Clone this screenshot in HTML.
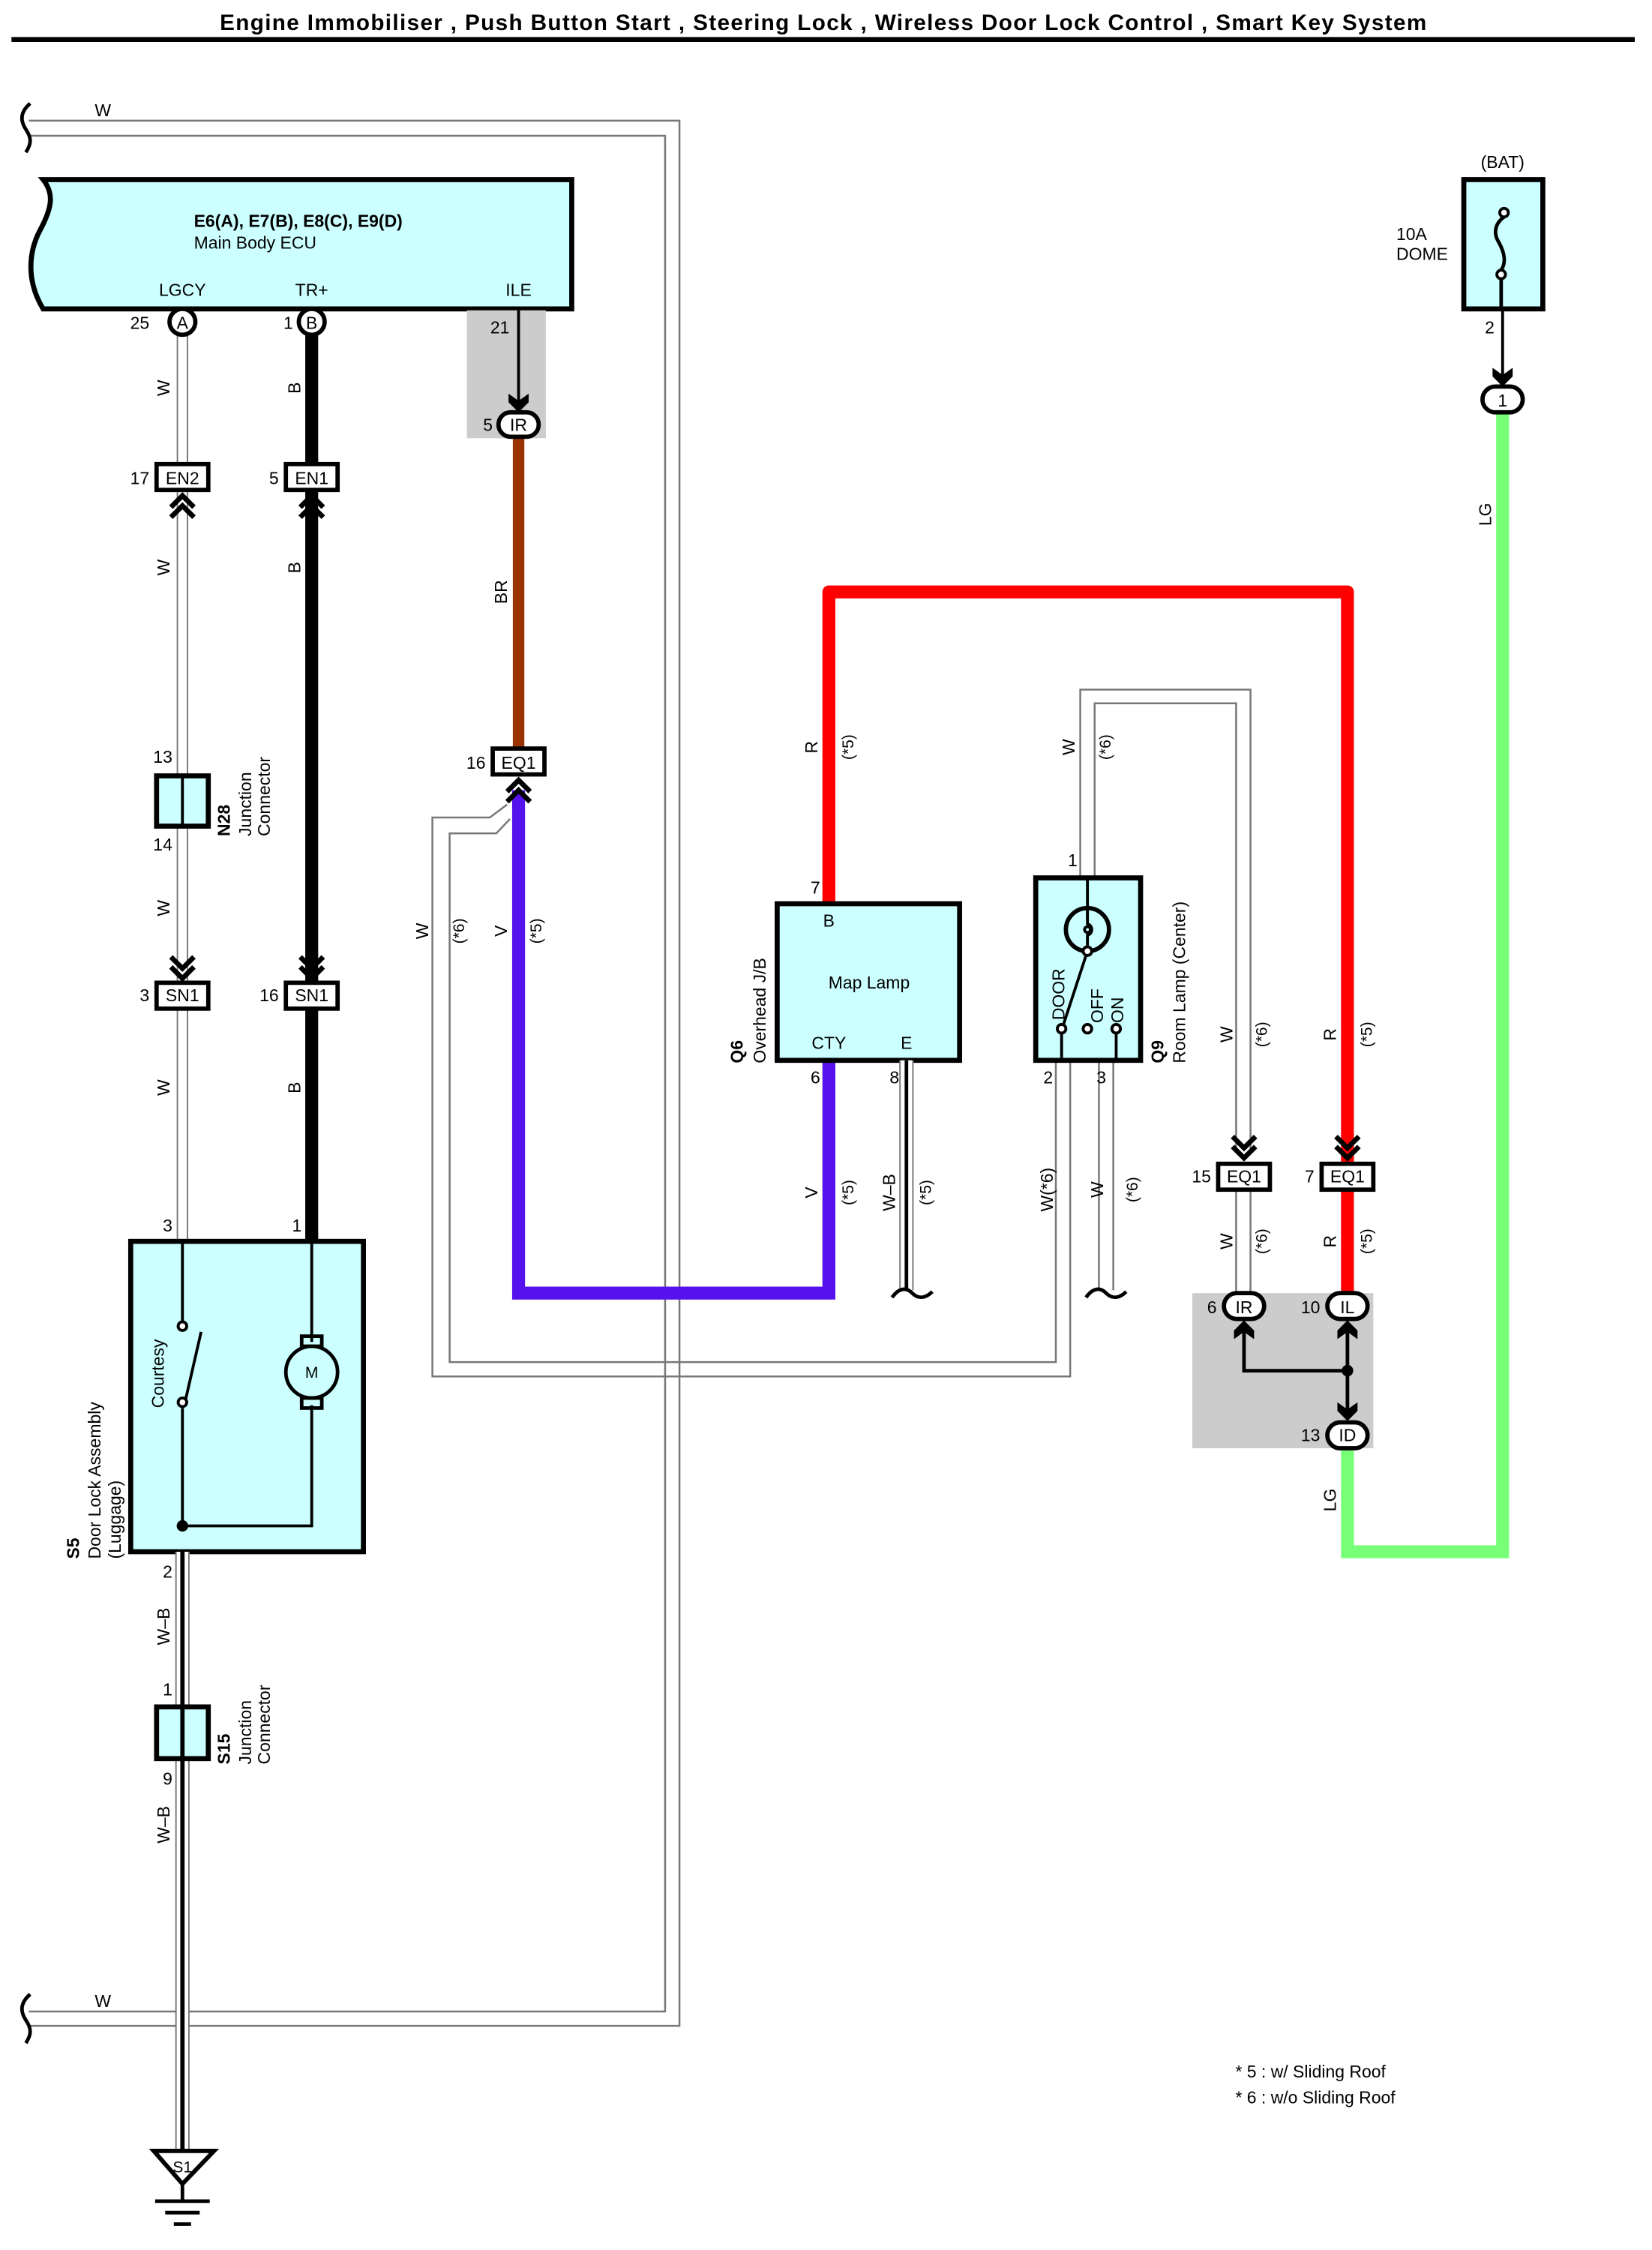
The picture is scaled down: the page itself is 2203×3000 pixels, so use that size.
<!DOCTYPE html>
<html><head><meta charset="utf-8"><style>
html,body{margin:0;padding:0;background:#fff;}
svg{display:block;}
text{font-family:"Liberation Sans",sans-serif;fill:#000;}
</style></head><body>
<svg width="2203" height="3000" viewBox="0 0 1150 1566" preserveAspectRatio="none" xmlns="http://www.w3.org/2000/svg">
<defs>
<symbol id="cd" overflow="visible"><path d="M-8,-15 L0,-7 L8,-15 M-8,-8 L0,0 L8,-8" fill="none" stroke="#000" stroke-width="3.5"/></symbol>
<symbol id="ar" overflow="visible"><path d="M-7,-12 L0,-7 L7,-12 L7,-6 L0,1 L-7,-6 Z" fill="#000"/></symbol>
</defs>
<text x="573" y="21" font-size="15.5" font-weight="bold" text-anchor="middle" textLength="840">Engine Immobiliser , Push Button Start , Steering Lock , Wireless Door Lock Control , Smart Key System</text>
<line x1="8" y1="27.5" x2="1138" y2="27.5" stroke="#000" stroke-width="3.5"/>

<!-- big W loop -->
<g fill="none" stroke="#777" stroke-width="1.3">
<path d="M20,84 H473 V1410 H20"/>
<path d="M20,94.5 H463 V1400 H20"/>
</g>
<path d="M21,72 C14,78 14,84 18,90 C22,96 22,100 18,106" fill="none" stroke="#000" stroke-width="2.5"/>
<path d="M21,1388 C14,1394 14,1400 18,1406 C22,1412 22,1416 18,1422" fill="none" stroke="#000" stroke-width="2.5"/>
<text x="66" y="81" font-size="12">W</text>
<text x="66" y="1397" font-size="12">W</text>

<!-- ECU -->
<path d="M30,125 H398 V215 H30 C18,195 20,175 28,160 C36,145 38,135 30,125 Z" fill="#ccffff" stroke="#000" stroke-width="3.5"/>
<text x="135" y="158" font-size="12" font-weight="bold">E6(A), E7(B), E8(C), E9(D)</text>
<text x="135" y="173" font-size="12">Main Body ECU</text>
<text x="127" y="206" font-size="12" text-anchor="middle">LGCY</text>
<text x="217" y="206" font-size="12" text-anchor="middle">TR+</text>
<text x="361" y="206" font-size="12" text-anchor="middle">ILE</text>
<rect x="325" y="216" width="55" height="89" fill="#cccccc"/>

<!-- LGCY W wire -->
<g fill="none">
<path d="M127,232 V863" stroke="#777" stroke-width="8"/>
<path d="M127,232 V863" stroke="#fff" stroke-width="6"/>
</g>
<!-- TR+ B -->
<line x1="217" y1="232" x2="217" y2="863" stroke="#000" stroke-width="9"/>
<circle cx="127" cy="224" r="9" fill="#fff" stroke="#000" stroke-width="3"/><text x="127" y="229" font-size="12" text-anchor="middle">A</text>
<circle cx="217" cy="224" r="9" fill="#fff" stroke="#000" stroke-width="3"/><text x="217" y="229" font-size="12" text-anchor="middle">B</text>
<text x="104" y="229" font-size="12" text-anchor="end" font-size="12">25</text>
<text x="204" y="229" font-size="12" text-anchor="end">1</text>
<text transform="translate(118,270) rotate(-90)" font-size="12" text-anchor="middle">W</text>
<text transform="translate(209,270) rotate(-90)" font-size="12" text-anchor="middle">B</text>
<text transform="translate(118,395) rotate(-90)" font-size="12" text-anchor="middle">W</text>
<text transform="translate(209,395) rotate(-90)" font-size="12" text-anchor="middle">B</text>
<text transform="translate(118,632) rotate(-90)" font-size="12" text-anchor="middle">W</text>
<text transform="translate(118,757) rotate(-90)" font-size="12" text-anchor="middle">W</text>
<text transform="translate(209,757) rotate(-90)" font-size="12" text-anchor="middle">B</text>

<!-- EN2 / EN1 -->
<rect x="109" y="323" width="36" height="18" fill="#fff" stroke="#000" stroke-width="3"/><text x="127" y="337" font-size="12" text-anchor="middle">EN2</text>
<text x="104" y="337" font-size="12" text-anchor="end">17</text>
<use href="#cd" transform="translate(127,345) rotate(180)"/>
<rect x="199" y="323" width="36" height="18" fill="#fff" stroke="#000" stroke-width="3"/><text x="217" y="337" font-size="12" text-anchor="middle">EN1</text>
<text x="194" y="337" font-size="12" text-anchor="end">5</text>
<use href="#cd" transform="translate(217,345) rotate(180)"/>

<!-- N28 -->
<rect x="109" y="540" width="36" height="35" fill="#ccffff" stroke="#000" stroke-width="3.5"/>
<line x1="127" y1="540" x2="127" y2="575" stroke="#000" stroke-width="2"/>
<text x="120" y="531" font-size="12" text-anchor="end">13</text>
<text x="120" y="592" font-size="12" text-anchor="end">14</text>
<text transform="translate(160,582) rotate(-90)" font-size="12" font-weight="bold">N28</text>
<text transform="translate(175,582) rotate(-90)" font-size="12">Junction</text>
<text transform="translate(188,582) rotate(-90)" font-size="12">Connector</text>

<!-- SN1 -->
<use href="#cd" transform="translate(127,681)"/>
<rect x="109" y="684" width="36" height="18" fill="#fff" stroke="#000" stroke-width="3"/><text x="127" y="697" font-size="12" text-anchor="middle">SN1</text>
<text x="104" y="697" font-size="12" text-anchor="end">3</text>
<use href="#cd" transform="translate(217,681)"/>
<rect x="199" y="684" width="36" height="18" fill="#fff" stroke="#000" stroke-width="3"/><text x="217" y="697" font-size="12" text-anchor="middle">SN1</text>
<text x="194" y="697" font-size="12" text-anchor="end">16</text>

<!-- Door lock -->
<text x="120" y="857" font-size="12" text-anchor="end">3</text>
<text x="210" y="857" font-size="12" text-anchor="end">1</text>
<rect x="91" y="864" width="162" height="216" fill="#ccffff" stroke="#000" stroke-width="3.5"/>
<g stroke="#000" stroke-width="2" fill="none">
<path d="M127,864 V920 M127,980 V1062 H217 V978 M217,864 V934"/>
<line x1="129" y1="975" x2="140" y2="927"/>
<circle cx="127" cy="923" r="3" fill="#fff"/><circle cx="127" cy="976" r="3" fill="#fff"/>
<circle cx="217" cy="955" r="18" fill="#ccffff" stroke-width="2.5"/>
<rect x="210" y="930" width="14" height="7" stroke-width="2.5"/><rect x="210" y="973" width="14" height="7" stroke-width="2.5"/>
</g>
<circle cx="217" cy="955" r="16" fill="#ccffff"/>
<text x="217" y="959" font-size="11" text-anchor="middle">M</text>
<circle cx="127" cy="1062" r="4" fill="#000"/>
<text transform="translate(114,980) rotate(-90)" font-size="12">Courtesy</text>
<text transform="translate(55,1085) rotate(-90)" font-size="12" font-weight="bold">S5</text>
<text transform="translate(70,1085) rotate(-90)" font-size="12">Door Lock Assembly</text>
<text transform="translate(84,1085) rotate(-90)" font-size="12">(Luggage)</text>

<!-- W-B to ground -->
<path d="M127,1080 V1497" stroke="#777" stroke-width="10" fill="none"/>
<path d="M127,1080 V1497" stroke="#fff" stroke-width="8" fill="none"/>
<line x1="127" y1="1080" x2="127" y2="1497" stroke="#000" stroke-width="3"/>
<text x="120" y="1098" font-size="12" text-anchor="end">2</text>
<text transform="translate(118,1132) rotate(-90)" font-size="12" text-anchor="middle">W–B</text>
<text x="120" y="1180" font-size="12" text-anchor="end">1</text>
<rect x="109" y="1188" width="36" height="36" fill="#ccffff" stroke="#000" stroke-width="3.5"/>
<line x1="127" y1="1188" x2="127" y2="1224" stroke="#000" stroke-width="3"/>
<text x="120" y="1242" font-size="12" text-anchor="end">9</text>
<text transform="translate(118,1270) rotate(-90)" font-size="12" text-anchor="middle">W–B</text>
<text transform="translate(160,1228) rotate(-90)" font-size="12" font-weight="bold">S15</text>
<text transform="translate(175,1228) rotate(-90)" font-size="12">Junction</text>
<text transform="translate(188,1228) rotate(-90)" font-size="12">Connector</text>
<path d="M107,1497 H149 L127,1520 Z" fill="#fff" stroke="#000" stroke-width="3"/>
<text x="127" y="1512" font-size="11" text-anchor="middle">S1</text>
<g stroke="#000" stroke-width="2.5">
<line x1="127" y1="1520" x2="127" y2="1532"/>
<line x1="108" y1="1532" x2="146" y2="1532"/>
<line x1="115" y1="1540" x2="139" y2="1540"/>
<line x1="121" y1="1548" x2="133" y2="1548"/>
</g>

<!-- ILE -->
<line x1="361" y1="216" x2="361" y2="282" stroke="#000" stroke-width="2"/>
<use href="#ar" transform="translate(361,286)"/>
<text x="348" y="232" font-size="12" text-anchor="middle">21</text>
<line x1="361" y1="304" x2="361" y2="522" stroke="#993300" stroke-width="8"/>
<rect x="347" y="287" width="28" height="17" rx="8.5" fill="#fff" stroke="#000" stroke-width="3"/>
<text x="361" y="300" font-size="12" text-anchor="middle">IR</text>
<text x="343" y="300" font-size="12" text-anchor="end">5</text>
<text transform="translate(353,412) rotate(-90)" font-size="12" text-anchor="middle">BR</text>
<rect x="343" y="521" width="36" height="18" fill="#fff" stroke="#000" stroke-width="3"/><text x="361" y="535" font-size="12" text-anchor="middle">EQ1</text>
<text x="338" y="535" font-size="12" text-anchor="end">16</text>

<!-- W(*6) loop from EQ1 -->
<g fill="none" stroke="#777" stroke-width="1.3">
<path d="M353,560 L341,569 H301 V958 H745 V738"/>
<path d="M355,570 L345.5,580 H313 V948 H735 V738"/>
</g>
<!-- V wire -->
<path d="M361,550 V900 H577 V738" fill="none" stroke="#5511ee" stroke-width="9"/>
<use href="#cd" transform="translate(361,543) rotate(180)"/>
<text transform="translate(298,648) rotate(-90)" font-size="12" text-anchor="middle">W</text>
<text transform="translate(323,648) rotate(-90)" font-size="11" text-anchor="middle">(*6)</text>
<text transform="translate(353,648) rotate(-90)" font-size="12" text-anchor="middle">V</text>
<text transform="translate(377,648) rotate(-90)" font-size="11" text-anchor="middle">(*5)</text>

<!-- R wire -->
<path d="M577,629 V412 H938 V900" fill="none" stroke="#ff0000" stroke-width="9" stroke-linejoin="round"/>
<text transform="translate(569,520) rotate(-90)" font-size="12" text-anchor="middle">R</text>
<text transform="translate(594,520) rotate(-90)" font-size="11" text-anchor="middle">(*5)</text>
<text x="571" y="622" font-size="12" text-anchor="end">7</text>

<!-- Map lamp -->
<rect x="541" y="629" width="127" height="109" fill="#ccffff" stroke="#000" stroke-width="3.5"/>
<text x="577" y="645" font-size="12" text-anchor="middle">B</text>
<text x="605" y="688" font-size="12" text-anchor="middle">Map Lamp</text>
<text x="577" y="730" font-size="12" text-anchor="middle">CTY</text>
<text x="631" y="730" font-size="12" text-anchor="middle">E</text>
<text transform="translate(517,740) rotate(-90)" font-size="12" font-weight="bold">Q6</text>
<text transform="translate(533,740) rotate(-90)" font-size="12">Overhead J/B</text>
<text x="571" y="754" font-size="12" text-anchor="end">6</text>
<text x="626" y="754" font-size="12" text-anchor="end">8</text>
<path d="M631,738 V898" stroke="#777" stroke-width="10" fill="none"/>
<path d="M631,738 V898" stroke="#fff" stroke-width="8" fill="none"/>
<line x1="631" y1="738" x2="631" y2="898" stroke="#000" stroke-width="2.5"/>
<path d="M621,903 C626,896 631,896 635,900 C639,904 644,904 649,899" fill="none" stroke="#000" stroke-width="2.5"/>
<text transform="translate(569,830) rotate(-90)" font-size="12" text-anchor="middle">V</text>
<text transform="translate(594,830) rotate(-90)" font-size="11" text-anchor="middle">(*5)</text>
<text transform="translate(623,830) rotate(-90)" font-size="12" text-anchor="middle">W–B</text>
<text transform="translate(648,830) rotate(-90)" font-size="11" text-anchor="middle">(*5)</text>

<!-- Room lamp wires -->
<g fill="none" stroke="#777" stroke-width="1.3">
<path d="M752,610 V480 H870.5 V800"/>
<path d="M762,610 V489.5 H860.5 V800"/>
<path d="M765,738 V898 M775,738 V898"/>
<path d="M860.5,828 V900 M870.5,828 V900"/>
</g>
<text transform="translate(748,520) rotate(-90)" font-size="12" text-anchor="middle">W</text>
<text transform="translate(773,520) rotate(-90)" font-size="11" text-anchor="middle">(*6)</text>
<text x="750" y="603" font-size="12" text-anchor="end">1</text>
<rect x="721" y="611" width="73" height="127" fill="#ccffff" stroke="#000" stroke-width="3.5"/>
<g stroke="#000" stroke-width="2" fill="none">
<line x1="757" y1="611" x2="757" y2="640"/>
<circle cx="757" cy="647" r="15" stroke-width="3"/>
<path d="M757,632 V643 C761,644 761,650 757,651 V662 L740,714"/>
<circle cx="757" cy="647" r="2" />
<line x1="739" y1="719" x2="739" y2="738"/>
<line x1="777" y1="719" x2="777" y2="738"/>
</g>
<circle cx="739" cy="716" r="3" fill="#fff" stroke="#000" stroke-width="2"/>
<circle cx="757" cy="716" r="3" fill="#fff" stroke="#000" stroke-width="2"/>
<circle cx="777" cy="716" r="3" fill="#fff" stroke="#000" stroke-width="2"/>
<circle cx="757" cy="662" r="3" fill="#fff" stroke="#000" stroke-width="2"/>
<text transform="translate(741,710) rotate(-90)" font-size="12">DOOR</text>
<text transform="translate(768,712) rotate(-90)" font-size="12">OFF</text>
<text transform="translate(782,712) rotate(-90)" font-size="12">ON</text>
<text transform="translate(810,740) rotate(-90)" font-size="12" font-weight="bold">Q9</text>
<text transform="translate(825,740) rotate(-90)" font-size="12">Room Lamp (Center)</text>
<text x="733" y="754" font-size="12" text-anchor="end">2</text>
<text x="770" y="754" font-size="12" text-anchor="end">3</text>
<path d="M756,903 C761,896 766,896 770,900 C774,904 779,904 784,899" fill="none" stroke="#000" stroke-width="2.5"/>
<text transform="translate(733,828) rotate(-90)" font-size="12" text-anchor="middle">W(*6)</text>
<text transform="translate(768,828) rotate(-90)" font-size="12" text-anchor="middle">W</text>
<text transform="translate(792,828) rotate(-90)" font-size="11" text-anchor="middle">(*6)</text>

<!-- EQ1 pair -->
<text transform="translate(858,720) rotate(-90)" font-size="12" text-anchor="middle">W</text>
<text transform="translate(882,720) rotate(-90)" font-size="11" text-anchor="middle">(*6)</text>
<text transform="translate(930,720) rotate(-90)" font-size="12" text-anchor="middle">R</text>
<text transform="translate(955,720) rotate(-90)" font-size="11" text-anchor="middle">(*5)</text>
<use href="#cd" transform="translate(866,806)"/>
<use href="#cd" transform="translate(938,806)"/>
<rect x="848" y="810" width="36" height="18" fill="#fff" stroke="#000" stroke-width="3"/><text x="866" y="823" font-size="12" text-anchor="middle">EQ1</text>
<text x="843" y="823" font-size="12" text-anchor="end">15</text>
<rect x="920" y="810" width="36" height="18" fill="#fff" stroke="#000" stroke-width="3"/><text x="938" y="823" font-size="12" text-anchor="middle">EQ1</text>
<text x="915" y="823" font-size="12" text-anchor="end">7</text>
<text transform="translate(858,864) rotate(-90)" font-size="12" text-anchor="middle">W</text>
<text transform="translate(882,864) rotate(-90)" font-size="11" text-anchor="middle">(*6)</text>
<text transform="translate(930,864) rotate(-90)" font-size="12" text-anchor="middle">R</text>
<text transform="translate(955,864) rotate(-90)" font-size="11" text-anchor="middle">(*5)</text>

<!-- LG wire -->
<path d="M1046,287 V1080 H938 V1006" fill="none" stroke="#77ff77" stroke-width="9"/>
<text transform="translate(1038,358) rotate(-90)" font-size="12" text-anchor="middle">LG</text>
<text transform="translate(930,1044) rotate(-90)" font-size="12" text-anchor="middle">LG</text>

<!-- gray box -->
<rect x="830" y="900" width="126" height="108" fill="#cccccc"/>
<g stroke="#000" stroke-width="2.5" fill="none">
<path d="M866,925 V954 H938 M938,925 V988"/>
</g>
<circle cx="938" cy="954" r="4" fill="#000"/>
<use href="#ar" transform="translate(866,920) rotate(180)"/>
<use href="#ar" transform="translate(938,920) rotate(180)"/>
<use href="#ar" transform="translate(938,988)"/>
<rect x="852" y="900" width="28" height="18" rx="9" fill="#fff" stroke="#000" stroke-width="3"/><text x="866" y="914" font-size="12" text-anchor="middle">IR</text>
<text x="847" y="914" font-size="12" text-anchor="end">6</text>
<rect x="924" y="900" width="28" height="18" rx="9" fill="#fff" stroke="#000" stroke-width="3"/><text x="938" y="914" font-size="12" text-anchor="middle">IL</text>
<text x="919" y="914" font-size="12" text-anchor="end">10</text>
<rect x="924" y="990" width="28" height="18" rx="9" fill="#fff" stroke="#000" stroke-width="3"/><text x="938" y="1003" font-size="12" text-anchor="middle">ID</text>
<text x="919" y="1003" font-size="12" text-anchor="end">13</text>

<!-- fuse -->
<text x="1046" y="117" font-size="12" text-anchor="middle">(BAT)</text>
<rect x="1019" y="125" width="55" height="90" fill="#ccffff" stroke="#000" stroke-width="3.5"/>
<path d="M1047,151 C1040,156 1040,163 1043,168 C1047,175 1049,182 1045,188 V215" fill="none" stroke="#000" stroke-width="2.5"/>
<circle cx="1047" cy="148" r="3" fill="#fff" stroke="#000" stroke-width="2"/>
<circle cx="1045" cy="191" r="3" fill="#fff" stroke="#000" stroke-width="2"/>
<text x="972" y="167" font-size="12">10A</text>
<text x="972" y="181" font-size="12">DOME</text>
<text x="1037" y="232" font-size="12" text-anchor="middle">2</text>
<line x1="1046" y1="215" x2="1046" y2="262" stroke="#000" stroke-width="2"/>
<use href="#ar" transform="translate(1046,268)"/>
<rect x="1032" y="269" width="28" height="18" rx="9" fill="#fff" stroke="#000" stroke-width="3"/><text x="1046" y="283" font-size="12" text-anchor="middle">1</text>

<!-- notes -->
<text x="860" y="1446" font-size="12">* 5 : w/ Sliding Roof</text>
<text x="860" y="1464" font-size="12">* 6 : w/o Sliding Roof</text>
</svg>
</body></html>
